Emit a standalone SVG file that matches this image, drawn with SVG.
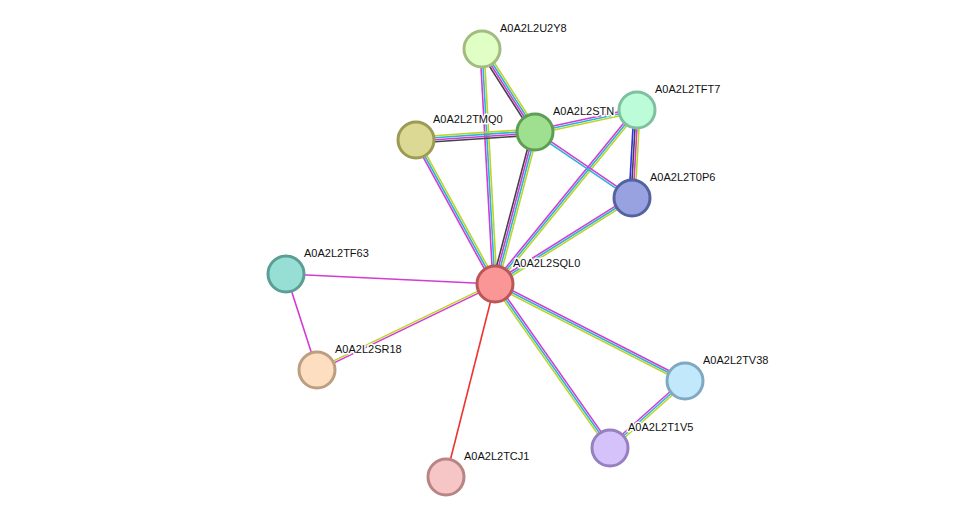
<svg xmlns="http://www.w3.org/2000/svg" width="975" height="523" viewBox="0 0 975 523">
<style>
line{stroke-width:1.6;fill:none}
.m{stroke:#d23cd2}.c{stroke:#2ab4d8}.y{stroke:#bcd42a}.k{stroke:#444}.b{stroke:#2e2ef0}.r{stroke:#ee3333}
circle{stroke-width:3}
text{font-family:"Liberation Sans",Arial,sans-serif;font-size:11px;fill:#111;stroke:#fff;stroke-width:3;paint-order:stroke;stroke-linejoin:round}
</style>
<rect width="975" height="523" fill="#fff"/>
<g id="edges">
<line class="m" x1="495" y1="284" x2="482" y2="49" transform="translate(-2,0.1)"/>
<line class="c" x1="495" y1="284" x2="482" y2="49"/>
<line class="y" x1="495" y1="284" x2="482" y2="49" transform="translate(2,-0.1)"/>
<line class="m" x1="495" y1="284" x2="416" y2="140" transform="translate(-1.75,0.96)"/>
<line class="c" x1="495" y1="284" x2="416" y2="140"/>
<line class="y" x1="495" y1="284" x2="416" y2="140" transform="translate(1.75,-0.96)"/>
<line class="k" x1="495" y1="284" x2="535" y2="132" transform="translate(-2.9,-0.76)"/>
<line class="m" x1="495" y1="284" x2="535" y2="132" transform="translate(-0.97,-0.25)"/>
<line class="c" x1="495" y1="284" x2="535" y2="132" transform="translate(0.97,0.25)"/>
<line class="y" x1="495" y1="284" x2="535" y2="132" transform="translate(2.9,0.76)"/>
<line class="m" x1="495" y1="284" x2="637" y2="110" transform="translate(-1.55,-1.26)"/>
<line class="c" x1="495" y1="284" x2="637" y2="110"/>
<line class="y" x1="495" y1="284" x2="637" y2="110" transform="translate(1.55,1.26)"/>
<line class="m" x1="495" y1="284" x2="632" y2="198" transform="translate(-1.06,-1.69)"/>
<line class="c" x1="495" y1="284" x2="632" y2="198"/>
<line class="y" x1="495" y1="284" x2="632" y2="198" transform="translate(1.06,1.69)"/>
<line class="m" x1="495" y1="284" x2="286" y2="274"/>
<line class="y" x1="495" y1="284" x2="317" y2="370" transform="translate(-0.44,-0.9)"/>
<line class="m" x1="495" y1="284" x2="317" y2="370" transform="translate(0.44,0.9)"/>
<line class="r" x1="495" y1="284" x2="446" y2="477"/>
<line class="m" x1="495" y1="284" x2="685" y2="381" transform="translate(0.91,-1.78)"/>
<line class="c" x1="495" y1="284" x2="685" y2="381"/>
<line class="y" x1="495" y1="284" x2="685" y2="381" transform="translate(-0.91,1.78)"/>
<line class="m" x1="495" y1="284" x2="610" y2="448" transform="translate(1.64,-1.15)"/>
<line class="c" x1="495" y1="284" x2="610" y2="448"/>
<line class="y" x1="495" y1="284" x2="610" y2="448" transform="translate(-1.64,1.15)"/>
<line class="m" x1="286" y1="274" x2="317" y2="370"/>
<line class="m" x1="685" y1="381" x2="610" y2="448" transform="translate(-1.33,-1.49)"/>
<line class="c" x1="685" y1="381" x2="610" y2="448"/>
<line class="y" x1="685" y1="381" x2="610" y2="448" transform="translate(1.33,1.49)"/>
<line class="k" x1="482" y1="49" x2="535" y2="132" transform="translate(-2.53,1.61)"/>
<line class="m" x1="482" y1="49" x2="535" y2="132" transform="translate(-0.84,0.54)"/>
<line class="c" x1="482" y1="49" x2="535" y2="132" transform="translate(0.84,-0.54)"/>
<line class="y" x1="482" y1="49" x2="535" y2="132" transform="translate(2.53,-1.61)"/>
<line class="y" x1="416" y1="140" x2="535" y2="132" transform="translate(-0.2,-3)"/>
<line class="c" x1="416" y1="140" x2="535" y2="132" transform="translate(-0.07,-1)"/>
<line class="m" x1="416" y1="140" x2="535" y2="132" transform="translate(0.07,1)"/>
<line class="k" x1="416" y1="140" x2="535" y2="132" transform="translate(0.2,3)"/>
<line class="m" x1="535" y1="132" x2="637" y2="110" transform="translate(-0.42,-1.96)"/>
<line class="c" x1="535" y1="132" x2="637" y2="110"/>
<line class="y" x1="535" y1="132" x2="637" y2="110" transform="translate(0.42,1.96)"/>
<line class="m" x1="535" y1="132" x2="632" y2="198" transform="translate(0.56,-0.83)"/>
<line class="c" x1="535" y1="132" x2="632" y2="198" transform="translate(-0.56,0.83)"/>
<line class="b" x1="637" y1="110" x2="632" y2="198" transform="translate(-3,-0.17)"/>
<line class="k" x1="637" y1="110" x2="632" y2="198" transform="translate(-1,-0.06)"/>
<line class="m" x1="637" y1="110" x2="632" y2="198" transform="translate(1,0.06)"/>
<line class="y" x1="637" y1="110" x2="632" y2="198" transform="translate(3,0.17)"/>
</g>
<g id="U2Y8"><circle cx="482" cy="49" r="18" fill="#e0ffc4" stroke="#a2bc80"/><text x="500" y="32">A0A2L2U2Y8</text></g>
<g id="TMQ0"><circle cx="416" cy="140" r="18" fill="#dcd994" stroke="#9c9a55"/><text x="433" y="123">A0A2L2TMQ0</text></g>
<g id="STN"><circle cx="535" cy="132" r="18" fill="#9fdf90" stroke="#5e9e54"/><text x="553" y="115">A0A2L2STN</text></g>
<g id="TFT7"><circle cx="637" cy="110" r="18" fill="#bdfcd8" stroke="#7ec0a0"/><text x="655" y="93">A0A2L2TFT7</text></g>
<g id="T0P6"><circle cx="632" cy="198" r="18" fill="#98a2e0" stroke="#5562a0"/><text x="650" y="181">A0A2L2T0P6</text></g>
<g id="SQL0"><circle cx="495" cy="284" r="18" fill="#fb9696" stroke="#bb5656"/><text x="513" y="267">A0A2L2SQL0</text></g>
<g id="TF63"><circle cx="286" cy="274" r="18" fill="#97ded5" stroke="#5a9e96"/><text x="304" y="257">A0A2L2TF63</text></g>
<g id="SR18"><circle cx="317" cy="370" r="18" fill="#fedec0" stroke="#bc9e80"/><text x="335" y="353">A0A2L2SR18</text></g>
<g id="TV38"><circle cx="685" cy="381" r="18" fill="#c2e9fb" stroke="#80a8c0"/><text x="703" y="364">A0A2L2TV38</text></g>
<g id="T1V5"><circle cx="610" cy="448" r="18" fill="#d5c2fb" stroke="#9580c0"/><text x="628" y="431">A0A2L2T1V5</text></g>
<g id="TCJ1"><circle cx="446" cy="477" r="18" fill="#f6c6c6" stroke="#b88484"/><text x="464" y="460">A0A2L2TCJ1</text></g>
</svg>
